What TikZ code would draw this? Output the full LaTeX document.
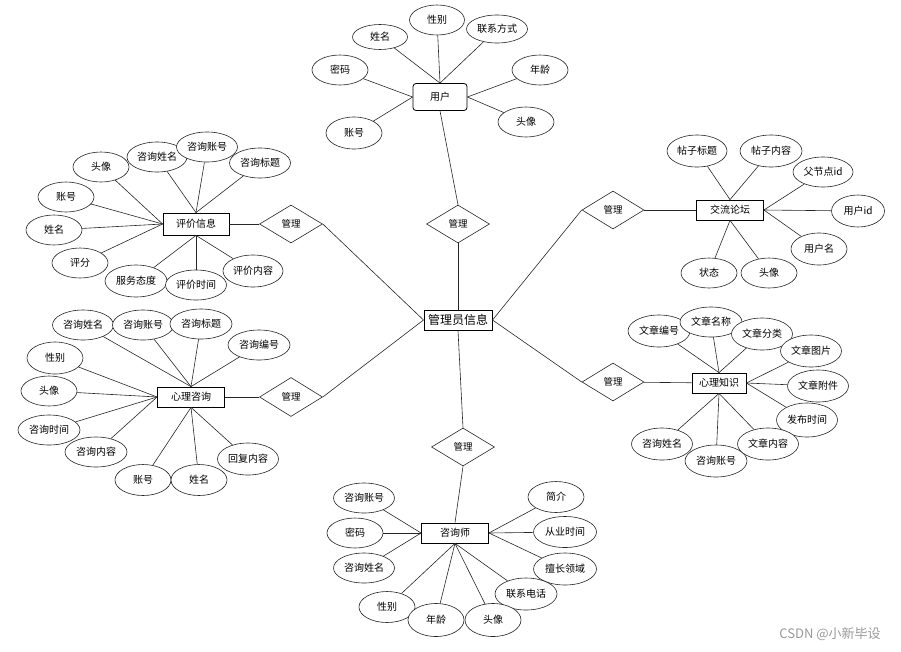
\documentclass[tikz,border=0pt]{standalone}
\usepackage{fontspec}
\usepackage{tikz}
\usetikzlibrary{shapes.geometric}
\newfontfamily\cjk{Noto Sans CJK SC}

\begin{document}
\begin{tikzpicture}[
    x=1pt, y=-1pt,
    attr/.style={ellipse, draw=black!85, fill=white, line width=0.6pt, minimum width=56pt, minimum height=30pt, inner sep=0pt, font=\cjk\fontsize{10}{12}\selectfont},
    wattr/.style={attr, minimum width=61pt},
    entity/.style={rectangle, draw=black, fill=white, line width=0.8pt, minimum width=67pt, minimum height=20pt, inner sep=0pt, font=\cjk\fontsize{10}{12}\selectfont},
    rel/.style={diamond, draw=black!85, fill=white, line width=0.6pt, minimum width=63pt, minimum height=38pt, inner sep=0pt, font=\cjk\fontsize{9.5}{11}\selectfont},
    link/.style={draw=black!85, line width=0.6pt},
]
\useasboundingbox (0,0) rectangle (901,651);

% 中心实体
\node[entity, line width=1pt, minimum width=68pt, font=\cjk\fontsize{12}{14}\selectfont] (admin) at (458,320) {管理员信息};

% 用户
\node[entity, rounded corners=3pt, minimum width=54pt, minimum height=27pt] (user) at (440,97) {用户};
\node[attr, minimum width=55pt, minimum height=25pt] (user-xm) at (380,37) {姓名};
\node[attr, minimum width=55pt] (user-xb) at (437,20) {性别};
\node[wattr, minimum height=28pt] (user-lx) at (497,29) {联系方式};
\node[attr] (user-mm) at (340,70) {密码};
\node[attr] (user-nl) at (540,70) {年龄};
\node[attr, minimum height=32pt] (user-zh) at (354,133) {账号};
\node[attr] (user-tx) at (526,122) {头像};
\node[rel] (r-user) at (458,224) {管理};

% 评价信息
\node[entity, minimum width=66pt, minimum height=22pt] (pj) at (196,224) {评价信息};
\node[rel] (r-pj) at (291,224) {管理};
\node[attr] (pj-tx) at (101,167) {头像};
\node[wattr, minimum width=60pt] (pj-zxxm) at (157,157) {咨询姓名};
\node[wattr] (pj-zxzh) at (207,147) {咨询账号};
\node[wattr] (pj-zxbt) at (260,163) {咨询标题};
\node[attr] (pj-zh) at (66,197) {账号};
\node[attr] (pj-xm) at (54,230) {姓名};
\node[attr] (pj-pf) at (80,263) {评分};
\node[wattr, minimum width=62pt, minimum height=32pt] (pj-fw) at (136,281) {服务态度};
\node[wattr] (pj-sj) at (196,285) {评价时间};
\node[wattr, minimum width=60pt, minimum height=32pt] (pj-nr) at (253,271) {评价内容};

% 心理咨询
\node[entity] (zx) at (191,397) {心理咨询};
\node[rel, minimum height=39pt] (r-zx) at (291,397) {管理};
\node[wattr] (zx-zxxm) at (83,325) {咨询姓名};
\node[wattr] (zx-zxzh) at (143,325) {咨询账号};
\node[wattr, minimum width=62pt] (zx-zxbt) at (201,324) {咨询标题};
\node[wattr, minimum width=62pt] (zx-zxbh) at (259,345) {咨询编号};
\node[attr, minimum height=32pt] (zx-xb) at (55,358) {性别};
\node[attr] (zx-tx) at (49,391) {头像};
\node[wattr, minimum width=62pt] (zx-zxsj) at (49,430) {咨询时间};
\node[wattr, minimum width=62pt] (zx-zxnr) at (96,452) {咨询内容};
\node[attr, minimum height=31pt] (zx-zh) at (143,480) {账号};
\node[attr, minimum height=31pt] (zx-xm) at (199,480) {姓名};
\node[wattr, minimum height=32pt] (zx-hf) at (248,459) {回复内容};

% 咨询师
\node[rel] (r-zxs) at (463,447) {管理};
\node[entity] (zxs) at (455,533) {咨询师};
\node[wattr] (zxs-zxzh) at (364,498) {咨询账号};
\node[attr] (zxs-mm) at (355,533) {密码};
\node[wattr] (zxs-zxxm) at (364,568) {咨询姓名};
\node[attr, minimum height=31pt] (zxs-jj) at (556,497) {简介};
\node[wattr, minimum width=63pt, minimum height=31pt] (zxs-cy) at (565,532) {从业时间};
\node[wattr, minimum width=63pt, minimum height=32pt] (zxs-sc) at (565,569) {擅长领域};
\node[wattr, minimum width=62pt, minimum height=32pt] (zxs-dh) at (526,594) {联系电话};
\node[attr, minimum height=31pt] (zxs-xb) at (387,607) {性别};
\node[attr, minimum height=33pt] (zxs-nl) at (436,620) {年龄};
\node[attr, minimum height=33pt] (zxs-tx) at (493,620) {头像};

% 交流论坛
\node[rel, minimum width=62pt] (r-lt) at (613,210) {管理};
\node[entity] (lt) at (730,210) {交流论坛};
\node[wattr, minimum width=60pt, minimum height=32pt] (lt-bt) at (697,151) {帖子标题};
\node[wattr, minimum width=62pt, minimum height=32pt] (lt-nr) at (771,151) {帖子内容};
\node[wattr, minimum width=60pt] (lt-fjd) at (823,172) {父节点id};
\node[attr, minimum width=53pt, minimum height=32pt] (lt-yhid) at (858,211) {用户id};
\node[attr, minimum height=32pt] (lt-yhm) at (819,249) {用户名};
\node[attr] (lt-zt) at (709,273) {状态};
\node[attr] (lt-tx) at (769,273) {头像};

% 心理知识
\node[rel, minimum width=62pt] (r-zs) at (613,382) {管理};
\node[entity, minimum width=54pt] (zs) at (719,383) {心理知识};
\node[wattr, minimum width=62pt, minimum height=32pt] (zs-bh) at (659,331) {文章编号};
\node[wattr, minimum width=62pt] (zs-mc) at (711,322) {文章名称};
\node[wattr, minimum height=32pt] (zs-fl) at (762,334) {文章分类};
\node[wattr, minimum height=32pt] (zs-tp) at (811,351) {文章图片};
\node[wattr, minimum height=32pt] (zs-fj) at (818,386) {文章附件};
\node[wattr, minimum height=34pt] (zs-sj) at (807,420) {发布时间};
\node[wattr, minimum height=32pt] (zs-zxxm) at (662,444) {咨询姓名};
\node[wattr, minimum width=62pt, minimum height=32pt] (zs-zxzh) at (716,461) {咨询账号};
\node[wattr, minimum height=32pt] (zs-nr) at (768,444) {文章内容};

% 水印
\node[font=\cjk\fontsize{13}{15}\selectfont, text=black!40] (mark) at (830,634) {CSDN @小新毕设};

% 连线：用户
\draw[link] (user-xm) -- (user.north);
\draw[link] (user-xb) -- (user.north);
\draw[link] (user-lx) -- (user.north);
\draw[link] (user-mm) -- (user.west);
\draw[link] (user-zh) -- (user.west);
\draw[link] (user-nl) -- (user.east);
\draw[link] (user-tx) -- (user.east);
\draw[link] (user.south) -- (r-user.north);
\draw[link] (r-user.south) -- (admin.north);

% 连线：评价信息
\draw[link] (pj-tx) -- (pj.west);
\draw[link] (pj-zh) -- (pj.west);
\draw[link] (pj-xm) -- (pj.west);
\draw[link] (pj-pf) -- (pj.west);
\draw[link] (pj-zxxm) -- (pj.north);
\draw[link] (pj-zxzh) -- (pj.north);
\draw[link] (pj-zxbt) -- (pj.north);
\draw[link] (pj-fw) -- (pj.south);
\draw[link] (pj-sj) -- (pj.south);
\draw[link] (pj-nr) -- (pj.south);
\draw[link] (pj) -- (r-pj);
\draw[link] (r-pj.east) -- (admin.west);

% 连线：心理咨询
\draw[link] (zx-zxxm) -- (zx.north);
\draw[link] (zx-zxzh) -- (zx.north);
\draw[link] (zx-zxbt) -- (zx.north);
\draw[link] (zx-zxbh) -- (zx.north);
\draw[link] (zx-xb) -- (zx.west);
\draw[link] (zx-tx) -- (zx.west);
\draw[link] (zx-zxsj) -- (zx.west);
\draw[link] (zx-zxnr) -- (zx.west);
\draw[link] (zx-zh) -- (zx.south);
\draw[link] (zx-xm) -- (zx.south);
\draw[link] (zx-hf) -- (zx.south);
\draw[link] (zx) -- (r-zx);
\draw[link] (r-zx.east) -- (admin.west);

% 连线：咨询师
\draw[link] (admin.south) -- (r-zxs.north);
\draw[link] (r-zxs.south) -- (zxs.north);
\draw[link] (zxs-zxzh) -- (zxs.west);
\draw[link] (zxs-mm) -- (zxs.west);
\draw[link] (zxs-zxxm) -- (zxs.west);
\draw[link] (zxs-jj) -- (zxs.east);
\draw[link] (zxs-cy) -- (zxs.east);
\draw[link] (zxs-sc) -- (zxs.east);
\draw[link] (zxs-xb) -- (zxs.south);
\draw[link] (zxs-nl) -- (zxs.south);
\draw[link] (zxs-tx) -- (zxs.south);
\draw[link] (zxs-dh) -- (zxs.south);

% 连线：交流论坛
\draw[link] (admin.east) -- (r-lt.west);
\draw[link] (r-lt) -- (lt);
\draw[link] (lt-bt) -- (lt.north);
\draw[link] (lt-nr) -- (lt.north);
\draw[link] (lt-fjd) -- (lt.east);
\draw[link] (lt-yhid) -- (lt.east);
\draw[link] (lt-yhm) -- (lt.east);
\draw[link] (lt-zt) -- (lt.south);
\draw[link] (lt-tx) -- (lt.south);

% 连线：心理知识
\draw[link] (admin.east) -- (r-zs.west);
\draw[link] (r-zs) -- (zs);
\draw[link] (zs-bh) -- (zs.north);
\draw[link] (zs-mc) -- (zs.north);
\draw[link] (zs-fl) -- (zs.north);
\draw[link] (zs-tp) -- (zs.east);
\draw[link] (zs-fj) -- (zs.east);
\draw[link] (zs-sj) -- (zs.east);
\draw[link] (zs-zxxm) -- (zs.south);
\draw[link] (zs-zxzh) -- (zs.south);
\draw[link] (zs-nr) -- (zs.south);

\end{tikzpicture}
\end{document}
